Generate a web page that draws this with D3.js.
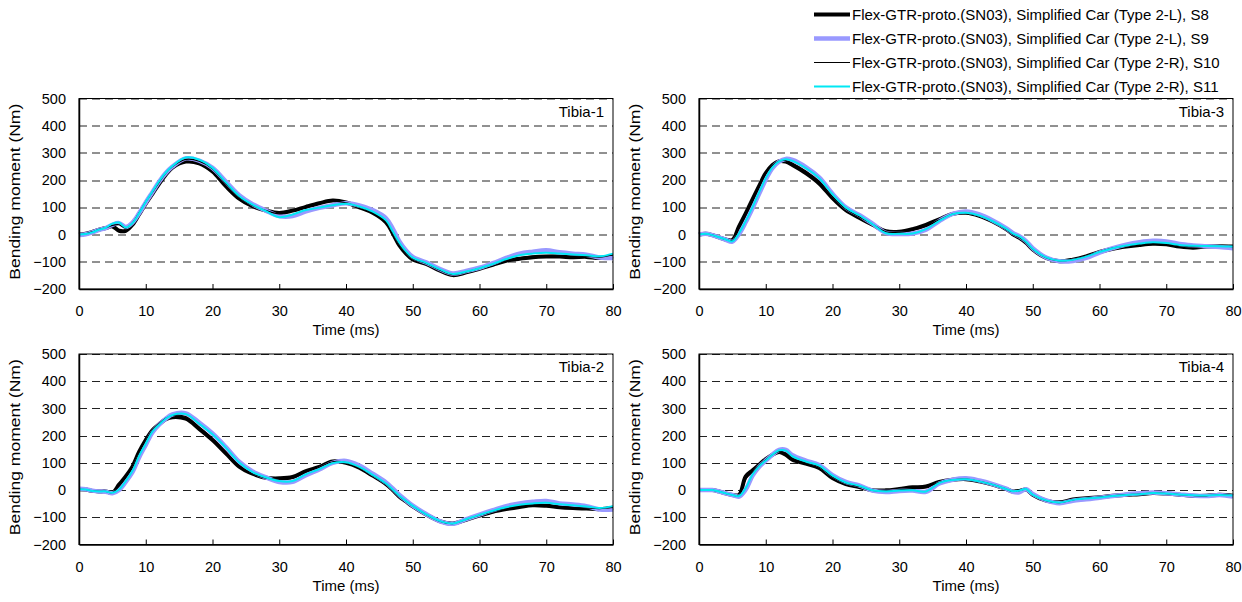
<!DOCTYPE html>
<html>
<head>
<meta charset="utf-8">
<script src="https://cdn.jsdelivr.net/npm/d3@7"></script>
<style>
body { margin: 0; background: #fff; }
text { font-family: "Liberation Sans", Arial, sans-serif; fill: #000; }
</style>
</head>
<body>
<script>
// time samples (ms), shared by every curve
var times = [0,1,2,3,4,5,6,7,8,9,10,11,12,13,14,16,18,20,22,24,26,28,30,32,34,36,38,40,42,44,46,47,48,49,50,52,54,56,58,60,62,64,66,68,70,72,74,76,78,80];

// Tibia-1
var t1S8  = [0,3,10,18,24,30,14,14,36,74,114,150,186,220,246,268,262,232,178,132,104,88,79,88,102,115,125,118,100,80,45,5,-40,-70,-92,-108,-132,-149,-139,-126,-111,-96,-89,-83,-81,-81,-83,-82,-86,-80];
var t1S9  = [-2,1,8,17,24,36,42,28,44,78,118,156,194,226,250,280,272,245,195,145,112,88,68,68,85,98,108,115,107,90,60,22,-25,-58,-82,-102,-126,-143,-134,-122,-105,-86,-70,-63,-58,-65,-70,-74,-84,-86];
var t1S10 = [0,3,10,19,25,34,36,24,42,80,120,156,192,226,250,276,270,242,188,137,107,88,76,86,99,113,123,117,101,81,47,8,-37,-67,-89,-106,-130,-147,-137,-124,-109,-93,-85,-79,-77,-77,-79,-80,-83,-74];
var t1S11 = [0,2,8,18,25,40,44,26,42,78,120,158,196,228,252,283,275,245,192,142,110,86,64,74,90,99,108,113,103,84,52,12,-30,-62,-85,-104,-127,-145,-136,-124,-108,-90,-76,-70,-67,-70,-73,-76,-80,-70];

// Tibia-3
var t3S8  = [0,3,-2,-10,-18,-20,30,78,128,178,226,256,270,268,256,226,188,134,90,62,36,12,10,20,36,56,76,80,69,48,20,2,-12,-30,-55,-86,-98,-92,-80,-64,-52,-44,-38,-34,-36,-44,-48,-44,-43,-44];
var t3S9  = [0,3,-2,-10,-19,-26,2,46,96,150,202,244,268,278,274,248,210,150,100,72,40,6,2,4,18,50,76,85,74,52,24,6,-6,-24,-50,-84,-98,-97,-86,-66,-50,-37,-28,-23,-25,-35,-40,-43,-46,-50];
var t3S10 = [0,3,-2,-10,-18,-22,22,70,120,172,222,254,270,272,262,234,196,140,94,66,38,10,8,16,30,54,75,80,69,48,19,1,-11,-29,-54,-85,-97,-92,-79,-63,-50,-42,-36,-31,-33,-41,-45,-43,-43,-44];
var t3S11 = [0,3,-2,-10,-18,-25,5,50,100,155,207,247,269,277,271,244,207,148,99,71,38,5,3,4,20,50,75,80,70,49,22,4,-7,-26,-52,-84,-96,-93,-81,-64,-50,-40,-33,-28,-31,-38,-41,-42,-43,-44];

// Tibia-2
var t2S8  = [3,2,-3,-5,-5,-10,20,50,86,140,184,220,242,260,268,262,225,184,135,86,60,45,43,48,70,85,105,100,82,53,22,0,-24,-42,-60,-90,-114,-123,-109,-94,-80,-70,-62,-56,-58,-63,-66,-68,-70,-65];
var t2S9  = [5,3,-2,-5,-6,-12,0,30,66,120,166,212,240,262,278,282,248,208,158,104,68,47,30,30,55,76,100,107,90,60,28,6,-18,-38,-57,-88,-114,-124,-107,-90,-74,-59,-49,-43,-40,-49,-53,-59,-71,-71];
var t2S10 = [3,2,-3,-5,-5,-9,15,45,82,136,182,220,244,264,274,270,232,190,140,90,60,44,40,44,66,84,104,101,83,54,22,0,-23,-41,-59,-90,-114,-123,-108,-92,-78,-67,-58,-52,-54,-60,-64,-66,-68,-64];
var t2S11 = [3,2,-3,-5,-5,-10,2,33,70,125,170,215,240,262,276,279,244,205,156,101,66,46,33,33,58,77,99,102,85,56,24,2,-21,-40,-58,-89,-113,-123,-107,-91,-76,-63,-54,-49,-47,-52,-56,-60,-66,-59];

// Tibia-4
var t4S8  = [0,0,0,-5,-12,-18,-18,50,72,93,114,130,140,130,112,97,81,44,22,11,-1,-1,4,10,13,30,38,40,32,20,4,-5,-3,2,-17,-39,-45,-35,-30,-26,-21,-17,-15,-11,-13,-17,-21,-21,-17,-21];
var t4S9  = [0,0,0,-5,-12,-18,-24,2,52,85,108,130,148,148,128,108,92,55,30,17,-2,-7,-3,-2,-6,24,38,43,35,22,5,-6,-8,3,-14,-38,-48,-39,-34,-28,-22,-16,-12,-9,-12,-16,-20,-22,-18,-24];
var t4S10 = [0,0,0,-5,-12,-18,-20,40,66,90,112,130,142,136,118,100,85,48,25,13,-1,-3,1,5,10,28,38,40,32,20,4,-5,-2,3,-17,-39,-46,-36,-30,-26,-21,-17,-15,-11,-13,-17,-20,-21,-17,-20];
var t4S11 = [0,0,0,-5,-12,-18,-22,7,56,87,109,130,146,145,124,105,90,53,28,16,-1,-5,-2,-1,-5,26,37,40,32,20,4,-4,-2,4,-17,-38,-46,-36,-31,-27,-22,-18,-15,-11,-13,-16,-19,-20,-18,-20];

var seriesNames = [
    "Flex-GTR-proto.(SN03), Simplified Car (Type 2-L), S8",
    "Flex-GTR-proto.(SN03), Simplified Car (Type 2-L), S9",
    "Flex-GTR-proto.(SN03), Simplified Car (Type 2-R), S10",
    "Flex-GTR-proto.(SN03), Simplified Car (Type 2-R), S11"];
var seriesColors = ["#000000", "#9999ff", "#000000", "#00e8f4"];
var seriesWidths = [4, 4.5, 1.2, 2];

var xTicks = [0, 10, 20, 30, 40, 50, 60, 70, 80];
var yTicks = [-200, -100, 0, 100, 200, 300, 400, 500];
var gridValues = [-100, 0, 100, 200, 300, 400, 500];

var panels = [
    {name: "Tibia-1", series: [t1S8, t1S9, t1S10, t1S11], left: 79, top: 98.5},
    {name: "Tibia-3", series: [t3S8, t3S9, t3S10, t3S11], left: 699, top: 98.5},
    {name: "Tibia-2", series: [t2S8, t2S9, t2S10, t2S11], left: 79, top: 354},
    {name: "Tibia-4", series: [t4S8, t4S9, t4S10, t4S11], left: 699, top: 354}
];
var plotW = 534, plotH = 190.5;

var svg = d3.select("body").append("svg")
    .attr("width", 1242)
    .attr("height", 602);

var x = d3.scaleLinear().domain([0, 80]).range([0, plotW]);
var y = d3.scaleLinear().domain([-200, 500]).range([plotH, 0]);

var line = d3.line()
    .x(function(d) { return x(d.t); })
    .y(function(d) { return y(d.v); })
    .curve(d3.curveCatmullRom.alpha(0.5));

panels.forEach(function(p) {
    var g = svg.append("g")
        .attr("transform", "translate(" + p.left + "," + p.top + ")");

    g.selectAll(".grid")
        .data(gridValues)
        .enter()
        .append("line")
        .attr("class", "grid")
        .attr("x1", 0)
        .attr("x2", plotW)
        .attr("y1", function(d) { return Math.round(y(d)) + 0.5; })
        .attr("y2", function(d) { return Math.round(y(d)) + 0.5; })
        .attr("stroke", "#222")
        .attr("stroke-width", 1)
        .attr("stroke-dasharray", "8,5");

    p.series.forEach(function(vals, i) {
        var pts = times.map(function(t, j) { return {t: t, v: vals[j]}; });
        g.append("path")
            .datum(pts)
            .attr("fill", "none")
            .attr("stroke", seriesColors[i])
            .attr("stroke-width", seriesWidths[i])
            .attr("stroke-linejoin", "round")
            .attr("d", line);
    });

    // frame
    g.append("rect")
        .attr("x", 0).attr("y", 0)
        .attr("width", plotW).attr("height", plotH)
        .attr("fill", "none")
        .attr("stroke", "#000")
        .attr("stroke-width", 1);

    var xAxis = d3.axisBottom(x)
        .tickValues(xTicks)
        .tickSize(-5)
        .tickPadding(17)
        .tickSizeOuter(0);
    var xg = g.append("g")
        .attr("transform", "translate(0," + plotH + ")")
        .call(xAxis);
    xg.select(".domain").attr("stroke-width", 1.5);
    xg.selectAll("text").style("font-size", "14.5px")
        .style("font-family", "'Liberation Sans', Arial, sans-serif");

    var yAxis = d3.axisLeft(y)
        .tickValues(yTicks)
        .tickSize(0)
        .tickPadding(13);
    var yg = g.append("g").call(yAxis);
    yg.select(".domain").attr("stroke-width", 1.5);
    yg.selectAll("text").style("font-size", "14.5px")
        .style("font-family", "'Liberation Sans', Arial, sans-serif");

    g.append("text")
        .attr("x", plotW / 2)
        .attr("y", plotH + 46)
        .attr("text-anchor", "middle")
        .style("font-size", "15px")
        .text("Time (ms)");

    g.append("text")
        .attr("transform", "rotate(-90)")
        .attr("x", -plotH / 2 + 2)
        .attr("y", -59)
        .attr("text-anchor", "middle")
        .attr("textLength", 176)
        .attr("lengthAdjust", "spacingAndGlyphs")
        .style("font-size", "15px")
        .text("Bending moment (Nm)");

    g.append("text")
        .attr("x", plotW - 9)
        .attr("y", 18)
        .attr("text-anchor", "end")
        .style("font-size", "15px")
        .text(p.name);
});

// legend
var legend = svg.append("g").attr("transform", "translate(814,14.5)");
seriesNames.forEach(function(name, i) {
    legend.append("line")
        .attr("x1", 0).attr("x2", 36)
        .attr("y1", i * 24).attr("y2", i * 24)
        .attr("stroke", seriesColors[i])
        .attr("stroke-width", seriesWidths[i]);
    legend.append("text")
        .attr("x", 38)
        .attr("y", i * 24 + 5)
        .style("font-size", "15px")
        .text(name);
});
</script>
</body>
</html>
